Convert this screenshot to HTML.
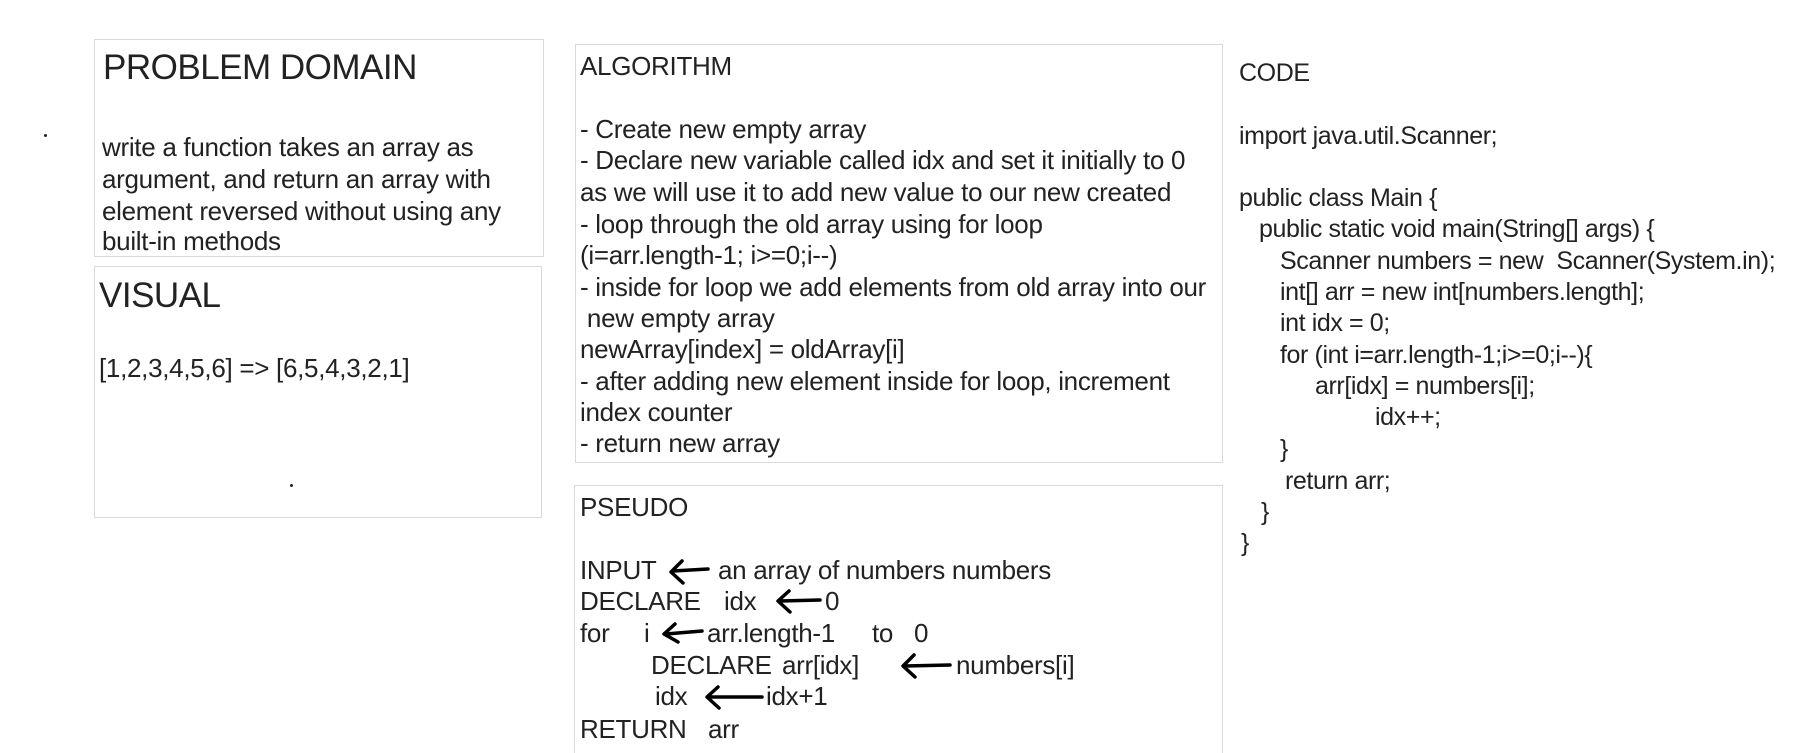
<!DOCTYPE html>
<html><head><meta charset="utf-8"><style>
html,body{margin:0;padding:0;background:#fff;width:1796px;height:753px;overflow:hidden;}
body{position:relative;font-family:"Liberation Sans",sans-serif;color:#222;}
.box{position:absolute;border:1px solid #d9d9d9;box-sizing:border-box;}
.t{position:absolute;white-space:pre;font-size:26px;line-height:32px;letter-spacing:-0.3px;}
.c{font-size:25px;letter-spacing:-0.4px;}
.h{font-size:35px;letter-spacing:-0.5px;line-height:38px;}
.dot{position:absolute;width:3px;height:3px;background:#222;border-radius:50%;}
svg{position:absolute;left:0;top:0;}
</style></head><body>
<div class="box" style="left:94px;top:39px;width:450px;height:218px"></div>
<div class="box" style="left:94px;top:266px;width:448px;height:252px"></div>
<div class="box" style="left:575px;top:44px;width:648px;height:419px"></div>
<div class="box" style="left:574px;top:485px;width:649px;height:268px;border-bottom:none"></div>
<div class="dot" style="left:44px;top:134px"></div>
<div class="dot" style="left:290px;top:484px"></div>

<div class="t h" style="left:103px;top:49px">PROBLEM DOMAIN</div>
<div class="t" style="left:102px;top:131px">write a function takes an array as</div>
<div class="t" style="left:102px;top:163px">argument, and return an array with</div>
<div class="t" style="left:102px;top:195px">element reversed without using any</div>
<div class="t" style="left:102px;top:225px">built-in methods</div>

<div class="t h" style="left:99px;top:277px">VISUAL</div>
<div class="t" style="left:99px;top:352px">[1,2,3,4,5,6] =&gt; [6,5,4,3,2,1]</div>

<div class="t" style="left:580px;top:50px">ALGORITHM</div>
<div class="t" style="left:580px;top:113px">- Create new empty array</div>
<div class="t" style="left:580px;top:144px">- Declare new variable called idx and set it initially to 0</div>
<div class="t" style="left:580px;top:176px">as we will use it to add new value to our new created</div>
<div class="t" style="left:580px;top:208px">- loop through the old array using for loop</div>
<div class="t" style="left:580px;top:239px">(i=arr.length-1; i&gt;=0;i--)</div>
<div class="t" style="left:580px;top:271px">- inside for loop we add elements from old array into our</div>
<div class="t" style="left:580px;top:302px"> new empty array</div>
<div class="t" style="left:580px;top:333px">newArray[index] = oldArray[i]</div>
<div class="t" style="left:580px;top:365px">- after adding new element inside for loop, increment</div>
<div class="t" style="left:580px;top:396px">index counter</div>
<div class="t" style="left:580px;top:427px">- return new array</div>

<div class="t" style="left:580px;top:491px">PSEUDO</div>
<div class="t" style="left:580px;top:554px">INPUT</div>
<div class="t" style="left:718px;top:554px">an array of numbers numbers</div>
<div class="t" style="left:580px;top:585px">DECLARE</div>
<div class="t" style="left:724px;top:585px">idx</div>
<div class="t" style="left:825px;top:585px">0</div>
<div class="t" style="left:580px;top:617px">for</div>
<div class="t" style="left:644px;top:617px">i</div>
<div class="t" style="left:707px;top:617px">arr.length-1</div>
<div class="t" style="left:872px;top:617px">to</div>
<div class="t" style="left:914px;top:617px">0</div>
<div class="t" style="left:651px;top:649px">DECLARE</div>
<div class="t" style="left:782px;top:649px">arr[idx]</div>
<div class="t" style="left:956px;top:649px">numbers[i]</div>
<div class="t" style="left:655px;top:680px">idx</div>
<div class="t" style="left:766px;top:680px">idx+1</div>
<div class="t" style="left:580px;top:713px">RETURN</div>
<div class="t" style="left:708px;top:713px">arr</div>

<svg width="1796" height="753" fill="none" stroke="#000" stroke-width="3.5" stroke-linecap="round" stroke-linejoin="round">
<path d="M682 561 L671 572 L683 583 M673 571 L708 569"/>
<path d="M789 591 L778 601 L790 612 M780 601 L820 600"/>
<path d="M675 624 L664 634 L678 642 M666 634 L702 631"/>
<path d="M914 655 L903 666 L915 677 M905 666 L950 665"/>
<path d="M718 687 L707 697 L719 708 M709 697 L762 697"/>
</svg>

<div class="t c" style="left:1239px;top:57px">CODE</div>
<div class="t c" style="left:1239px;top:120px">import java.util.Scanner;</div>
<div class="t c" style="left:1239px;top:182px">public class Main {</div>
<div class="t c" style="left:1259px;top:213px">public static void main(String[] args) {</div>
<div class="t c" style="left:1280px;top:245px">Scanner numbers = new  Scanner(System.in);</div>
<div class="t c" style="left:1280px;top:276px">int[] arr = new int[numbers.length];</div>
<div class="t c" style="left:1280px;top:307px">int idx = 0;</div>
<div class="t c" style="left:1280px;top:339px">for (int i=arr.length-1;i&gt;=0;i--){</div>
<div class="t c" style="left:1315px;top:370px">arr[idx] = numbers[i];</div>
<div class="t c" style="left:1375px;top:401px">idx++;</div>
<div class="t c" style="left:1280px;top:433px">}</div>
<div class="t c" style="left:1285px;top:465px">return arr;</div>
<div class="t c" style="left:1261px;top:496px">}</div>
<div class="t c" style="left:1241px;top:527px">}</div>
</body></html>
